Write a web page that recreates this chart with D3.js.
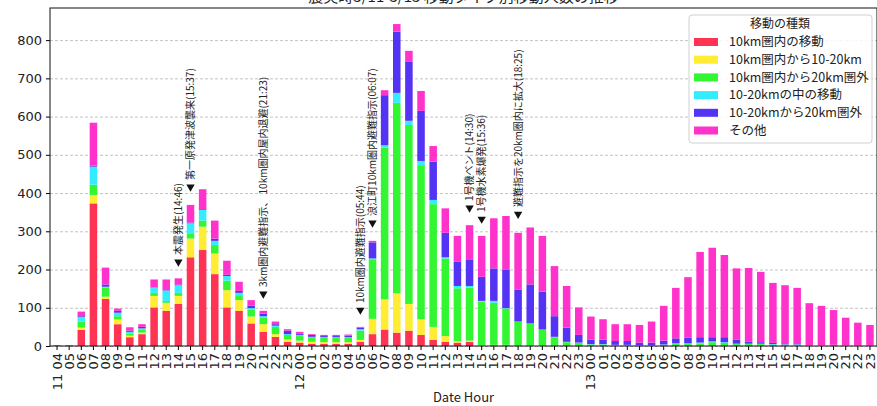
<!DOCTYPE html>
<html>
<head>
<meta charset="utf-8">
<script src="https://cdn.jsdelivr.net/npm/d3@7"></script>
<style>
    body { margin: 0; background: #fff; }
    text { font-family: "Noto Sans CJK JP", "DejaVu Sans", sans-serif; fill: #222; }
</style>
</head>
<body>
<svg id="chart" width="877" height="406"></svg>
<script>
const categories = [
    "11 04", "11 05", "11 06", "11 07", "11 08", "11 09", "11 10", "11 11", "11 12", "11 13",
    "11 14", "11 15", "11 16", "11 17", "11 18", "11 19", "11 20", "11 21", "11 22", "11 23",
    "12 00", "12 01", "12 02", "12 03", "12 04", "12 05", "12 06", "12 07", "12 08", "12 09",
    "12 10", "12 11", "12 12", "12 13", "12 14", "12 15", "12 16", "12 17", "12 18", "12 19",
    "12 20", "12 21", "12 22", "12 23",
    "13 00", "13 01", "13 02", "13 03", "13 04", "13 05", "13 06", "13 07", "13 08", "13 09",
    "13 10", "13 11", "13 12", "13 13", "13 14", "13 15", "13 16", "13 17", "13 18", "13 19",
    "13 20", "13 21", "13 22", "13 23"
];

const seriesNames = ["10km圏内の移動", "10km圏内から10-20km", "10km圏内から20km圏外",
    "10-20kmの中の移動", "10-20kmから20km圏外", "その他"];
const seriesColors = ["#ff3354", "#ffec33", "#33f633", "#33ecff", "#5433f5", "#ff33cc"];

const inner10 = [0, 0, 42, 373, 123, 57, 23, 31, 101, 92, 110, 232, 251, 188, 101, 92, 59, 37, 24, 11,
    9, 6, 6, 6, 6, 11, 31, 43, 35, 40, 29, 16, 11, 9, 11, 1, 2, 2, 1, 1, 1, 1, 0, 0,
    0, 0, 0, 0, 0, 0, 0, 0, 0, 0, 0, 0, 0, 0, 0, 0, 0, 0, 0, 0, 0, 0, 0, 0];
const inner10To20 = [0, 0, 6, 22, 6, 13, 4, 4, 30, 21, 21, 49, 61, 54, 45, 28, 18, 20, 7, 6,
    5, 5, 4, 4, 4, 5, 40, 79, 103, 70, 41, 34, 15, 4, 3, 1, 1, 1, 0, 0, 0, 0, 0, 0,
    0, 0, 0, 0, 0, 0, 0, 0, 0, 0, 0, 0, 0, 0, 0, 0, 0, 0, 0, 0, 0, 0, 0, 0];
const inner10ToOut = [0, 0, 16, 27, 23, 8, 6, 7, 8, 5, 8, 12, 16, 22, 25, 13, 19, 18, 19, 12,
    12, 12, 12, 12, 12, 24, 154, 397, 498, 468, 403, 321, 203, 138, 139, 114, 110, 95, 62, 57, 41, 22, 10, 8,
    4, 4, 2, 2, 2, 2, 3, 5, 5, 7, 10, 8, 5, 5, 5, 3, 3, 3, 2, 2, 3, 2, 1, 1];
const within10_20 = [0, 0, 12, 47, 3, 9, 4, 4, 14, 27, 20, 28, 28, 11, 12, 6, 3, 3, 3, 2,
    3, 1, 1, 1, 1, 4, 4, 6, 26, 11, 11, 11, 3, 6, 4, 2, 5, 1, 1, 1, 1, 1, 1, 1,
    1, 1, 1, 1, 0, 0, 1, 2, 2, 2, 2, 2, 1, 1, 1, 2, 1, 1, 0, 0, 0, 0, 0, 0];
const from10_20ToOut = [0, 0, 2, 3, 6, 5, 3, 4, 1, 1, 2, 2, 2, 6, 3, 5, 7, 7, 4, 9,
    4, 5, 3, 3, 4, 4, 42, 131, 160, 154, 131, 100, 64, 63, 68, 63, 85, 100, 84, 102, 99, 54, 37, 20,
    12, 12, 10, 10, 7, 7, 10, 13, 15, 14, 11, 13, 10, 6, 4, 3, 1, 1, 0, 0, 0, 0, 0, 0];
const others = [2, 2, 12, 112, 44, 6, 9, 7, 20, 28, 16, 46, 52, 47, 37, 24, 14, 7, 7, 4,
    4, 2, 3, 3, 3, 2, 4, 13, 20, 29, 52, 41, 64, 68, 91, 107, 131, 141, 148, 149, 146, 131, 109, 72,
    60, 53, 44, 44, 46, 55, 91, 132, 158, 223, 234, 215, 187, 192, 184, 157, 154, 147, 110, 103, 91, 72, 60, 54];

const yTicks = [0, 100, 200, 300, 400, 500, 600, 700, 800];

// events (category, label, marker height in data units)
const eventKeys = ["11 14", "11 15", "11 21", "12 05", "12 06", "12 14", "12 15", "12 18"];
const eventLabels = ["本震発生(14:46)", "第一原発津波襲来(15:37)", "3km圏内避難指示、 10km圏内屋内退避(21:23)",
    "10km圏内避難指示(05:44)", "浪江町10km圏内避難指示(06:07)", "1号機ベント(14:30)",
    "1号機水素爆発(15:36)", "避難指示を20km圏内に拡大(18:25)"];
const eventY = [220, 416, 136, 94, 322, 361, 332, 345];

const chartTitle = "震災時3/11-3/13 移動タイプ別移動人数の推移";
const xLabel = "Date Hour";
const legendTitle = "移動の種類";

function drawChart() {
    const width = 877, height = 406;
    const margin = {top: 8, right: 0, bottom: 60, left: 50};
    const innerWidth = width - margin.left - margin.right;
    const innerHeight = height - margin.top - margin.bottom;

    const svg = d3.select("#chart");

    const seriesValues = [inner10, inner10To20, inner10ToOut, within10_20, from10_20ToOut, others];
    const rows = categories.map((c, i) => {
        const row = {cat: c};
        seriesNames.forEach((s, k) => row[s] = seriesValues[k][i]);
        return row;
    });
    const stacked = d3.stack().keys(seriesNames)(rows);

    const x = d3.scaleBand()
        .domain(categories)
        .range([0, innerWidth])
        .paddingInner(0.38)
        .paddingOuter(0.27);

    const y = d3.scaleLinear()
        .domain([0, 884])
        .range([innerHeight, 0]);

    // title, mostly cut off at the top edge like the source
    svg.append("text")
        .attr("x", margin.left + innerWidth / 2)
        .attr("y", 2)
        .attr("text-anchor", "middle")
        .style("font-size", "15px")
        .text(chartTitle);

    const g = svg.append("g")
        .attr("transform", `translate(${margin.left},${margin.top})`);

    // grid
    g.append("g")
        .selectAll("line")
        .data(yTicks)
        .enter()
        .append("line")
        .attr("x1", 0)
        .attr("x2", innerWidth)
        .attr("y1", d => y(d) + 0.5)
        .attr("y2", d => y(d) + 0.5)
        .attr("stroke", "#b4b4b4")
        .attr("stroke-width", 0.8)
        .attr("stroke-dasharray", "3,2");

    // bars
    g.append("g")
        .selectAll("g")
        .data(stacked)
        .enter()
        .append("g")
        .attr("fill", (d, k) => seriesColors[k])
        .selectAll("rect")
        .data(d => d)
        .enter()
        .append("rect")
        .attr("x", d => x(d.data.cat))
        .attr("width", x.bandwidth())
        .attr("y", d => y(d[1]))
        .attr("height", d => y(d[0]) - y(d[1]));

    // y axis
    const yAxis = g.append("g")
        .call(d3.axisLeft(y).tickValues(yTicks).tickSize(4).tickPadding(4));
    yAxis.select(".domain").remove();
    yAxis.selectAll("text")
        .style("font-size", "13px")
        .style("font-family", "'DejaVu Sans', sans-serif")
        .attr("fill", "#222");

    // x axis
    const xAxis = g.append("g")
        .attr("transform", `translate(0,${innerHeight})`)
        .call(d3.axisBottom(x).tickSize(4).tickFormat((d, i) =>
            (i === 0 || d.slice(3) === "00") ? d : d.slice(3)));
    xAxis.select(".domain").remove();
    xAxis.selectAll("text")
        .style("font-size", "13px")
        .style("font-family", "'DejaVu Sans', sans-serif")
        .attr("fill", "#222")
        .attr("text-anchor", "end")
        .attr("transform", "rotate(-90)")
        .attr("x", -7)
        .attr("y", 0)
        .attr("dy", "0.35em");

    // frame
    g.append("rect")
        .attr("x", 0)
        .attr("y", 0)
        .attr("width", innerWidth)
        .attr("height", innerHeight)
        .attr("fill", "none")
        .attr("stroke", "#111")
        .attr("stroke-width", 1);

    // event markers
    const ev = g.append("g");
    eventKeys.forEach((k, i) => {
        const cx = x(k) + x.bandwidth() / 2;
        const cy = y(eventY[i]);
        ev.append("path")
            .attr("d", d3.symbol(d3.symbolTriangle, 30)())
            .attr("transform", `translate(${cx},${cy}) rotate(180)`)
            .attr("fill", "#111");
        ev.append("text")
            .attr("transform", `translate(${cx},${cy - 7}) rotate(-90)`)
            .attr("dy", "0.35em")
            .style("font-size", "10px")
            .text(eventLabels[i]);
    });

    // x label
    svg.append("text")
        .attr("x", margin.left + innerWidth / 2)
        .attr("y", 402)
        .attr("text-anchor", "middle")
        .style("font-size", "13px")
        .text(xLabel);

    // legend
    const legend = svg.append("g")
        .attr("transform", "translate(689,15)");

    legend.append("rect")
        .attr("width", 183)
        .attr("height", 128)
        .attr("rx", 3)
        .attr("fill", "#fff")
        .attr("fill-opacity", 0.85)
        .attr("stroke", "#d0d0d0");

    legend.append("text")
        .attr("x", 91)
        .attr("y", 13)
        .attr("text-anchor", "middle")
        .style("font-size", "12px")
        .text(legendTitle);

    seriesNames.forEach((s, k) => {
        const ry = 27 + k * 17.7;
        legend.append("rect")
            .attr("x", 5)
            .attr("y", ry - 4)
            .attr("width", 24)
            .attr("height", 8)
            .attr("fill", seriesColors[k]);
        legend.append("text")
            .attr("x", 40)
            .attr("y", ry)
            .attr("dy", "0.35em")
            .style("font-size", "12.5px")
            .text(s);
    });
}

drawChart();
</script>
</body>
</html>
